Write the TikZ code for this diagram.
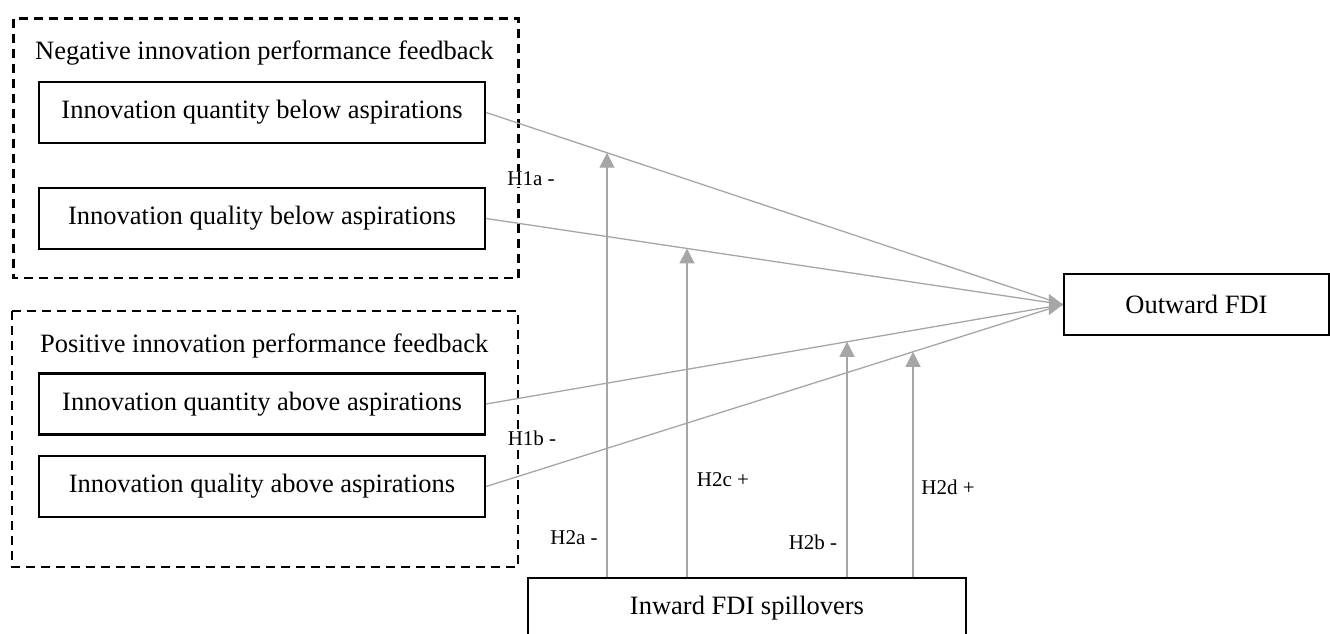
\documentclass[tikz,border=0pt]{standalone}
\usepackage{fontspec}
\setmainfont{Liberation Serif}
\usetikzlibrary{arrows.meta}
\definecolor{linkgray}{RGB}{166,166,166}

\begin{document}
\begin{tikzpicture}[x=1pt,y=-1pt,
    fbox/.style={draw,line width=2.2pt,minimum width=446pt,minimum height=61pt,inner sep=0pt,font=\fontsize{26.5}{30}\selectfont},
    group/.style={draw,line width=2.6pt,dash pattern=on 9pt off 6pt},
    link/.style={draw=linkgray,line width=1.3pt},
    hyp/.style={link,-{Triangle[length=15pt,width=15pt]},fill=linkgray},
    hlabel/.style={fill=white,inner sep=1pt,font=\fontsize{21}{24}\selectfont}
  ]
  \useasboundingbox (0,0) rectangle (1330,633);
  % feedback groups
  \draw[group] (13.5,18.5) rectangle (518.5,278);
  \draw[group] (12,311) rectangle (518,567);
  \node[anchor=base west,inner sep=0pt,font=\fontsize{26.5}{30}\selectfont] (negt) at (35,59) {Negative innovation performance feedback};
  \node[anchor=base west,inner sep=0pt,font=\fontsize{26.5}{30}\selectfont] (post) at (40,352) {Positive innovation performance feedback};
  \node[fbox] (qnb) at (262,112.5) {Innovation quantity below aspirations};
  \node[fbox] (qlb) at (262,218.5) {Innovation quality below aspirations};
  \node[fbox] (qna) at (262,404) {Innovation quantity above aspirations};
  \node[fbox] (qla) at (262,486.5) {Innovation quality above aspirations};
  \node[fbox,minimum width=265pt] (ofdi) at (1196.5,304.5) {Outward FDI};
  \node[fbox,minimum width=438pt] (ifdi) at (747,608.5) {Inward FDI spillovers};
  % main effects
  \draw[link] (qnb.east) -- (ofdi.west);
  \draw[link] (qlb.east) -- (ofdi.west);
  \draw[link] (qna.east) -- (ofdi.west);
  \draw[link] (qla.east) -- (ofdi.west);
  \draw[link,-{Triangle[length=14pt,width=21pt]},fill=linkgray] ([xshift=-14pt]ofdi.west) -- (ofdi.west);
  % moderation
  \coordinate (t2a) at (intersection of qnb.east--ofdi.west and 607,0--607,600);
  \coordinate (t2c) at (intersection of qlb.east--ofdi.west and 687,0--687,600);
  \coordinate (t2b) at (intersection of qna.east--ofdi.west and 847,0--847,600);
  \coordinate (t2d) at (intersection of qla.east--ofdi.west and 913,0--913,600);
  \draw[hyp] (ifdi.north -| t2a) -- (t2a);
  \draw[hyp] (ifdi.north -| t2c) -- (t2c);
  \draw[hyp] (ifdi.north -| t2b) -- (t2b);
  \draw[hyp] (ifdi.north -| t2d) -- (t2d);
  % labels
  \node[hlabel] (h1a) at (531,179) {H1a -};
  \node[hlabel] (h1b) at (532,438) {H1b -};
  \node[hlabel] (h2a) at (574,538) {H2a -};
  \node[hlabel] (h2c) at (723,480) {H2c +};
  \node[hlabel] (h2b) at (813,542) {H2b -};
  \node[hlabel] (h2d) at (948,487) {H2d +};
\end{tikzpicture}
\end{document}
